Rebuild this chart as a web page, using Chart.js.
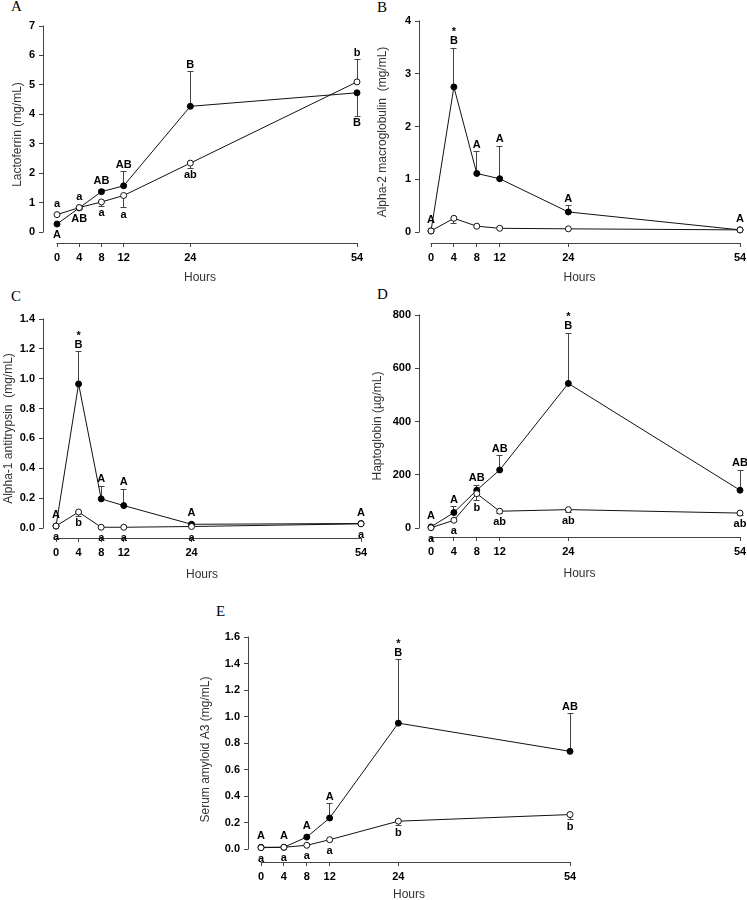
<!DOCTYPE html>
<html>
<head>
<meta charset="utf-8">
<script src="https://cdn.jsdelivr.net/npm/chart.js@4.4.0/dist/chart.umd.min.js"></script>
<style>
  html, body { margin: 0; padding: 0; background: #fff; }
  #page { position: relative; width: 747px; height: 900px; overflow: hidden; }
  #page canvas { position: absolute; }
  .letter { position: absolute; font-family: "Liberation Serif", "Times New Roman", serif; font-size: 15px; line-height: 15px; color: #000; }
</style>
</head>
<body>
<div id="page">
  <div class="letter" style="left:11px;top:-1px">A</div>
  <div class="letter" style="left:377px;top:0px">B</div>
  <div class="letter" style="left:11px;top:289px">C</div>
  <div class="letter" style="left:377px;top:287px">D</div>
  <div class="letter" style="left:216px;top:604px">E</div>
</div>
<script>
const hours = [0, 4, 8, 12, 24, 54];

// A - lactoferrin (mg/mL)
const lfFilled = [0.27, 0.82, 1.37, 1.57, 4.27, 4.73];
const lfFilledErr = [null, null, 1.44, 2.04, 5.45, 3.94];
const lfFilledTags = ['A', 'AB', 'AB', 'AB', 'B', 'B'];
const lfFilledSide = ['down', 'down', 'up', 'up', 'up', 'down'];
const lfOpen = [0.59, 0.83, 1.02, 1.24, 2.34, 5.10];
const lfOpenErr = [null, 0.78, 0.87, 0.82, 2.17, 5.85];
const lfOpenTags = ['a', 'a', 'a', 'a', 'ab', 'b'];
const lfOpenSide = ['up', 'up', 'down', 'down', 'down', 'up'];

// B - alpha-2 macroglobulin (mg/mL)
const a2Filled = [0.02, 2.75, 1.11, 1.01, 0.38, 0.04];
const a2FilledErr = [null, 3.48, 1.52, 1.63, 0.50, null];
const a2FilledTags = ['A', '*B', 'A', 'A', 'A', 'A'];
const a2Open = [0.02, 0.26, 0.11, 0.07, 0.06, 0.04];
const a2OpenErr = [null, 0.16, null, null, null, null];
const a2OpenTags = ['', '', '', '', '', ''];

// C - alpha-1 antitrypsin (mg/mL)
const a1Filled = [0.013, 0.965, 0.195, 0.15, 0.025, 0.03];
const a1FilledErr = [null, 1.18, 0.28, 0.26, null, null];
const a1FilledTags = ['A', '*B', 'A', 'A', 'A', 'A'];
const a1Open = [0.013, 0.107, 0.005, 0.005, 0.01, 0.028];
const a1OpenErr = [null, 0.08, null, null, null, null];
const a1OpenTags = ['a', 'b', 'a', 'a', 'a', 'a'];

// D - haptoglobin (ug/mL)
const hpFilled = [4, 58, 142, 218, 543, 142];
const hpFilledErr = [null, 79, 160, 272, 731, 217];
const hpFilledTags = ['A', 'A', 'AB', 'AB', '*B', 'AB'];
const hpOpen = [1, 29, 129, 63, 69, 56];
const hpOpenErr = [null, null, 102, 54, 58, 48];
const hpOpenTags = ['a', 'a', 'b', 'ab', 'ab', 'ab'];

// E - serum amyloid A3 (mg/mL)
const saFilled = [0.013, 0.013, 0.09, 0.234, 0.95, 0.737];
const saFilledErr = [null, null, null, 0.34, 1.43, 1.02];
const saFilledTags = ['A', 'A', 'A', 'A', '*B', 'AB'];
const saOpen = [0.01, 0.013, 0.028, 0.07, 0.21, 0.26];
const saOpenErr = [null, null, null, null, 0.176, 0.22];
const saOpenTags = ['a', 'a', 'a', 'a', 'b', 'b'];

const allUp = ['up', 'up', 'up', 'up', 'up', 'up'];
const allDown = ['down', 'down', 'down', 'down', 'down', 'down'];

const FONT = "'Liberation Sans', Arial, sans-serif";
Chart.defaults.font.family = FONT;

const panels = [
  { title: 'Lactoferrin (mg/mL)', ymax: 7, yTicks: [0, 1, 2, 3, 4, 5, 6, 7], dec: 0,
    filled: lfFilled, filledErr: lfFilledErr, filledTags: lfFilledTags, filledSide: lfFilledSide,
    open: lfOpen, openErr: lfOpenErr, openTags: lfOpenTags, openSide: lfOpenSide,
    box: { axisX: 43, x0: 57, x54: 357, yTop: 26, y0: 232, axisY: 243, titleX: 17, hoursY: 278 } },
  { title: 'Alpha-2 macroglobulin  (mg/mL)', ymax: 4, yTicks: [0, 1, 2, 3, 4], dec: 0,
    filled: a2Filled, filledErr: a2FilledErr, filledTags: a2FilledTags, filledSide: allUp,
    open: a2Open, openErr: a2OpenErr, openTags: a2OpenTags, openSide: allDown,
    box: { axisX: 419, x0: 431, x54: 740, yTop: 21, y0: 232, axisY: 243, titleX: 382, hoursY: 278 } },
  { title: 'Alpha-1 antitrypsin  (mg/mL)', ymax: 1.4, yTicks: [0, 0.2, 0.4, 0.6, 0.8, 1.0, 1.2, 1.4], dec: 1,
    filled: a1Filled, filledErr: a1FilledErr, filledTags: a1FilledTags, filledSide: allUp,
    open: a1Open, openErr: a1OpenErr, openTags: a1OpenTags, openSide: allDown,
    box: { axisX: 43, x0: 56, x54: 361, yTop: 319, y0: 528, axisY: 538, titleX: 8, hoursY: 575 } },
  { title: 'Haptoglobin (µg/mL)', ymax: 800, yTicks: [0, 200, 400, 600, 800], dec: 0,
    filled: hpFilled, filledErr: hpFilledErr, filledTags: hpFilledTags, filledSide: allUp,
    open: hpOpen, openErr: hpOpenErr, openTags: hpOpenTags, openSide: allDown,
    box: { axisX: 419, x0: 431, x54: 740, yTop: 315, y0: 528, axisY: 537, titleX: 377, hoursY: 574 } },
  { title: 'Serum amyloid A3 (mg/mL)', ymax: 1.6, yTicks: [0, 0.2, 0.4, 0.6, 0.8, 1.0, 1.2, 1.4, 1.6], dec: 1,
    filled: saFilled, filledErr: saFilledErr, filledTags: saFilledTags, filledSide: allUp,
    open: saOpen, openErr: saOpenErr, openTags: saOpenTags, openSide: allDown,
    box: { axisX: 248, x0: 261, x54: 570, yTop: 637, y0: 849, axisY: 862, titleX: 205, hoursY: 895 } }
];

function align(v) { return Math.round(v - 0.5) + 0.5; }

// hand drawn axis lines: only over the data range, like the original figure
const axisLines = {
  id: 'axisLines',
  beforeDatasetsDraw(chart, args, opts) {
    const { ctx, chartArea, scales: { x, y } } = chart;
    ctx.save();
    ctx.strokeStyle = '#444';
    ctx.lineWidth = 1;
    const lx = align(chartArea.left);
    const by = align(chartArea.bottom);
    ctx.beginPath();
    ctx.moveTo(lx, y.getPixelForValue(0) + 0.5);
    ctx.lineTo(lx, y.getPixelForValue(opts.ymax) - 0.5);
    ctx.moveTo(x.getPixelForValue(0) - 0.5, by);
    ctx.lineTo(x.getPixelForValue(54) + 0.5, by);
    ctx.stroke();
    ctx.restore();
  }
};

const errorBars = {
  id: 'errorBars',
  beforeDatasetsDraw(chart) {
    const { ctx, scales: { x, y } } = chart;
    ctx.save();
    ctx.strokeStyle = '#444';
    ctx.lineWidth = 1;
    chart.data.datasets.forEach(ds => {
      ds.data.forEach((pt, i) => {
        const e = ds.errEnd[i];
        if (e == null) return;
        const px = align(x.getPixelForValue(pt.x));
        const py = y.getPixelForValue(pt.y);
        const ey = align(y.getPixelForValue(e));
        ctx.beginPath();
        ctx.moveTo(px, py);
        ctx.lineTo(px, ey);
        ctx.moveTo(px - 3, ey);
        ctx.lineTo(px + 3, ey);
        ctx.stroke();
      });
    });
    ctx.restore();
  }
};

const tagLabels = {
  id: 'tagLabels',
  afterDatasetsDraw(chart) {
    const { ctx, scales: { x, y } } = chart;
    ctx.save();
    ctx.fillStyle = '#000';
    ctx.font = 'bold 11px ' + FONT;
    ctx.textAlign = 'center';
    ctx.textBaseline = 'middle';
    chart.data.datasets.forEach(ds => {
      ds.tags.forEach((t, i) => {
        if (!t) return;
        const up = ds.side[i] === 'up';
        const px = x.getPixelForValue(ds.data[i].x);
        const py = y.getPixelForValue(ds.data[i].y);
        let edge = py + (up ? -4 : 4);
        const e = ds.errEnd[i];
        if (e != null) {
          const ey = y.getPixelForValue(e);
          edge = up ? Math.min(edge, ey) : Math.max(edge, ey);
        }
        const cy = edge + (up ? -7 : 7);
        let txt = t;
        if (t[0] === '*') {
          txt = t.slice(1);
          ctx.fillText('*', px, cy - 9);
        }
        ctx.fillText(txt, px, cy);
      });
    });
    ctx.restore();
  }
};

function makePanel(p) {
  const g = p.box;
  const page = document.getElementById('page');
  const leftW = g.axisX - g.titleX + 8;
  const padTop = 14, padRight = 16;
  const left = g.axisX - leftW;
  const top = g.yTop - padTop;
  const bottom = g.hoursY + 10;
  const width = leftW + (g.x54 - g.axisX) + padRight;
  const height = bottom - top;
  const bottomH = bottom - g.axisY;
  const xmin = -(g.x0 - g.axisX) * 54 / (g.x54 - g.x0);
  const ymin = -(g.axisY - g.y0) * p.ymax / (g.y0 - g.yTop);

  const canvas = document.createElement('canvas');
  canvas.width = width;
  canvas.height = height;
  canvas.style.left = left + 'px';
  canvas.style.top = top + 'px';
  canvas.style.width = width + 'px';
  canvas.style.height = height + 'px';
  page.appendChild(canvas);

  const tickFont = { family: FONT, size: 11, weight: 'bold' };
  const titleFont = { family: FONT, size: 12 };

  new Chart(canvas, {
    type: 'line',
    data: {
      datasets: [
        {
          label: 'open',
          data: hours.map((h, i) => ({ x: h, y: p.open[i] })),
          borderColor: '#111', borderWidth: 1, tension: 0,
          pointRadius: 3, pointBackgroundColor: '#fff', pointBorderColor: '#111', pointBorderWidth: 1,
          clip: false,
          errEnd: p.openErr, tags: p.openTags, side: p.openSide
        },
        {
          label: 'filled',
          data: hours.map((h, i) => ({ x: h, y: p.filled[i] })),
          borderColor: '#111', borderWidth: 1, tension: 0,
          pointRadius: 3, pointBackgroundColor: '#000', pointBorderColor: '#000', pointBorderWidth: 1,
          clip: false,
          errEnd: p.filledErr, tags: p.filledTags, side: p.filledSide
        }
      ]
    },
    options: {
      responsive: false,
      animation: false,
      devicePixelRatio: 1,
      layout: { padding: { top: padTop, right: padRight, left: 0, bottom: 0 } },
      plugins: {
        legend: { display: false },
        tooltip: { enabled: false },
        axisLines: { ymax: p.ymax }
      },
      scales: {
        x: {
          type: 'linear',
          min: xmin,
          max: 54,
          afterBuildTicks: s => { s.ticks = hours.map(v => ({ value: v })); },
          afterFit: s => { s.height = bottomH; },
          grid: { display: true, drawOnChartArea: false, drawTicks: true, tickLength: 4, color: '#444', tickColor: '#444' },
          border: { display: false },
          ticks: { padding: 4, color: '#000', font: tickFont, maxRotation: 0, autoSkip: false, callback: v => String(v) },
          title: { display: true, text: 'Hours', color: '#333', font: titleFont, padding: { top: 0, bottom: 3 } }
        },
        y: {
          type: 'linear',
          min: ymin,
          max: p.ymax,
          afterBuildTicks: s => { s.ticks = p.yTicks.map(v => ({ value: v })); },
          afterFit: s => { s.width = leftW; },
          grid: { display: true, drawOnChartArea: false, drawTicks: true, tickLength: 4, color: '#444', tickColor: '#444' },
          border: { display: false },
          ticks: { padding: 4, color: '#000', font: tickFont, callback: v => Number(v).toFixed(p.dec) },
          title: { display: true, text: p.title, color: '#333', font: titleFont, padding: { top: 1, bottom: 0 } }
        }
      }
    },
    plugins: [axisLines, errorBars, tagLabels]
  });
}

panels.forEach(makePanel);
</script>
</body>
</html>
